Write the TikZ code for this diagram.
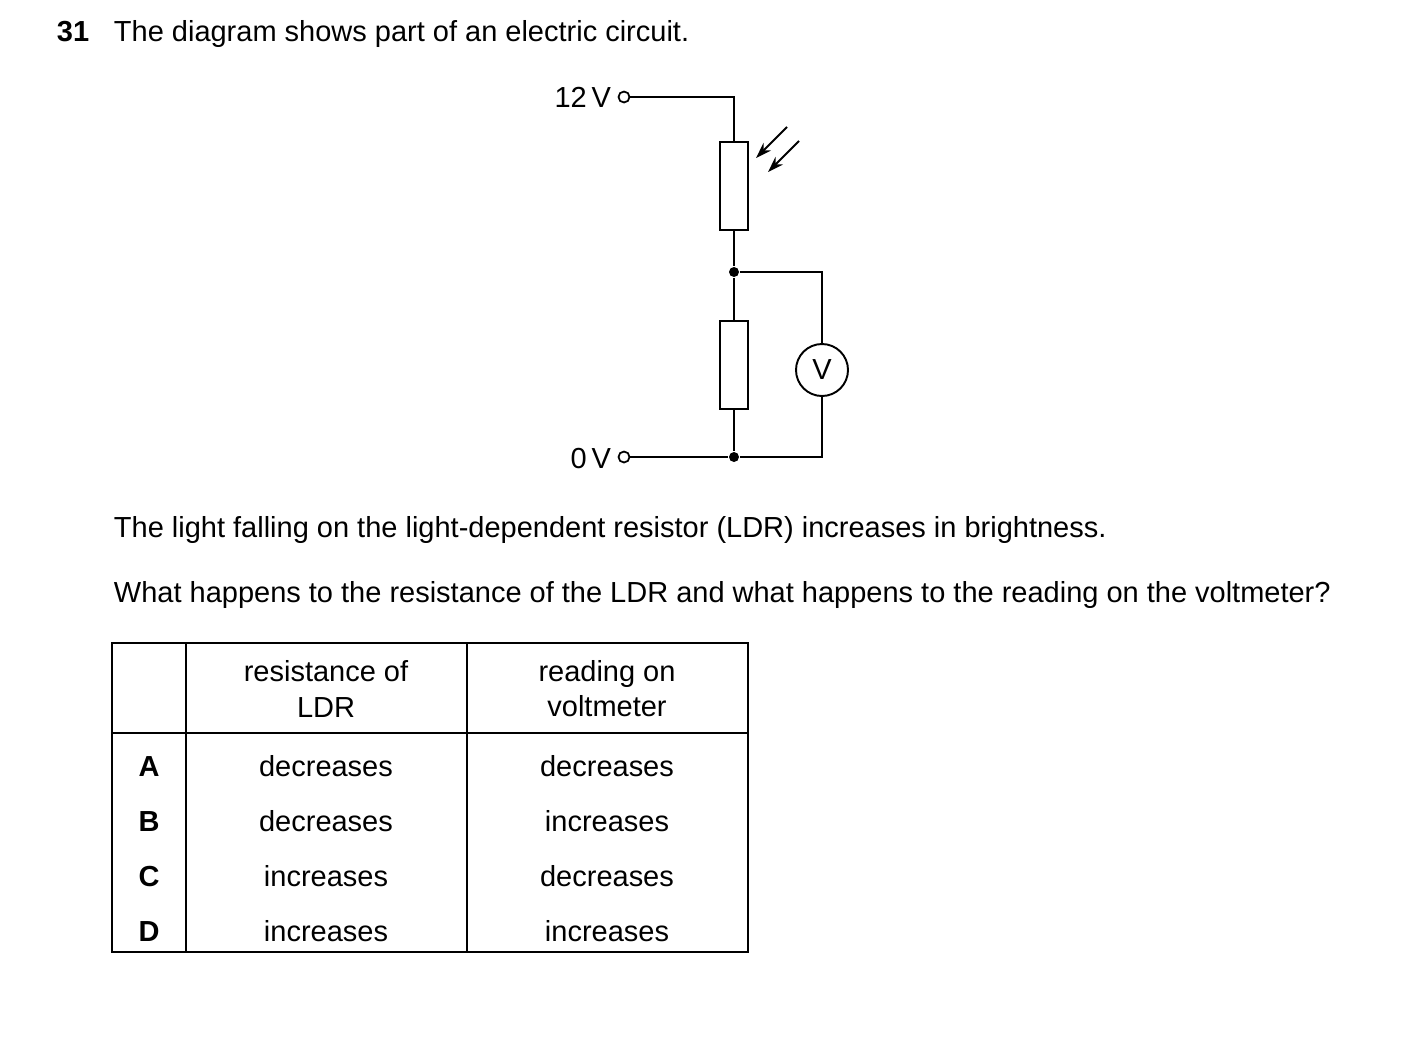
\documentclass[tikz,border=0pt]{standalone}
\usepackage{fontspec}
\setmainfont{Liberation Sans}
\usetikzlibrary{arrows.meta}

\begin{document}
\begin{tikzpicture}[x=0.02cm,y=-0.02cm,line width=1.1pt,
  txt/.style={inner sep=0pt,font=\fontsize{16.5}{20}\selectfont},
  res/.style={draw,minimum width=28*0.02cm,minimum height=88*0.02cm,inner sep=0pt},
  dot/.style={circle,fill=black,inner sep=0pt,minimum size=10*0.02cm},
  term/.style={circle,draw,fill=white,inner sep=0pt,minimum size=11*0.02cm,line width=1pt},
  meter/.style={circle,draw,fill=white,inner sep=0pt,minimum size=52*0.02cm,font=\fontsize{16.5}{20}\selectfont}]
\useasboundingbox (0,0) rectangle (1403,1046);
% question text
\node[txt,anchor=base west,font=\bfseries\fontsize{16.5}{20}\selectfont] (num) at (56,41) {31};
\node[txt,anchor=base west] (q1) at (113,41) {The diagram shows part of an electric circuit.};
% circuit
\node[term] (top) at (624,97) {};
\node[term] (bot) at (624,457) {};
\node[txt,anchor=east] (vtop) at (612,97) {12\,V};
\node[txt,anchor=east] (vbot) at (612,459) {0\,V};
\coordinate (c1) at (734,97);
\node[res] (ldr) at (734,186) {};
\node[dot] (j1) at (734,272) {};
\node[res] (r2) at (734,365) {};
\node[dot] (j2) at (734,457) {};
\coordinate (c2) at (822,272);
\coordinate (c3) at (822,457);
\node[meter] (vm) at (822,370) {V};
\draw (top) -- (c1) -- (ldr.north);
\draw (ldr.south) -- (j1) -- (r2.north);
\draw (r2.south) -- (j2) -- (bot);
\draw (j1) -- (c2) -- (vm.north);
\draw (vm.south) -- (c3) -- (j2);
\coordinate (a1) at (787,127);
\coordinate (b1) at (756,158);
\coordinate (a2) at (799,141);
\coordinate (b2) at (768,172);
\draw[-{Stealth[length=9pt,width=6pt]}] (a1) -- (b1);
\draw[-{Stealth[length=9pt,width=6pt]}] (a2) -- (b2);
% questions
\node[txt,anchor=base west] (q2) at (113,537) {The light falling on the light-dependent resistor (LDR) increases in brightness.};
\node[txt,anchor=base west] (q3) at (113,602) {What happens to the resistance of the LDR and what happens to the reading on the voltmeter?};
% table
\draw[line width=0.8pt] (112,643) rectangle (748,952);
\draw[line width=0.8pt] (186,643) -- (186,952);
\draw[line width=0.8pt] (467,643) -- (467,952);
\draw[line width=0.8pt] (112,733) -- (748,733);
\node[txt,align=center] (h1) at (326,689) {resistance of\\LDR};
\node[txt,align=center] (h2) at (607,689) {reading on\\voltmeter};
\foreach \l/\r/\v [count=\i] in {A/decreases/decreases,B/decreases/increases,C/increases/decreases,D/increases/increases}{
  \node[txt,anchor=base,font=\bfseries\fontsize{16.5}{20}\selectfont] (l\i) at (149,721+55*\i) {\l};
  \node[txt,anchor=base] (r\i) at (326,721+55*\i) {\r};
  \node[txt,anchor=base] (v\i) at (607,721+55*\i) {\v};
}
\end{tikzpicture}
\end{document}
